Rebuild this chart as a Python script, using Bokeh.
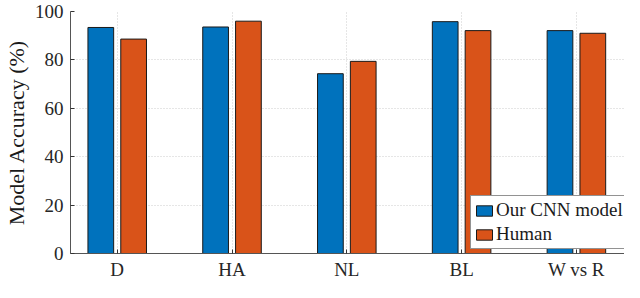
from bokeh.plotting import figure
from bokeh.models import ColumnDataSource, FixedTicker, Legend, LegendItem
from bokeh.transform import dodge
from bokeh.embed import file_html
from bokeh.resources import INLINE

categories = ["D", "HA", "NL", "BL", "W vs R"]
cnn_acc = [93.4, 93.6, 74.3, 95.8, 92.1]
human_acc = [88.6, 96.0, 79.4, 92.1, 91.0]
y_ticks = [0, 20, 40, 60, 80, 100]

xs = list(range(1, len(categories) + 1))
src = ColumnDataSource(dict(x=xs, cnn=cnn_acc, human=human_acc))

FONT = "Liberation Serif"
BLUE = "#0072BD"
ORANGE = "#D95319"

p = figure(width=624, height=282, x_range=(0.593, 5.419), y_range=(0, 100),
           output_backend="svg", toolbar_location=None,
           min_border_left=63, min_border_right=0, min_border_top=11,
           min_border_bottom=0, background_fill_color="white",
           border_fill_color="white")
p.outline_line_color = None

r1 = p.vbar(x=dodge("x", -0.143), top="cnn", width=0.224, source=src,
            fill_color=BLUE, line_color="#1a1a1a", line_width=1)
r2 = p.vbar(x=dodge("x", 0.143), top="human", width=0.224, source=src,
            fill_color=ORANGE, line_color="#1a1a1a", line_width=1)

# axes
p.xaxis.ticker = FixedTicker(ticks=xs)
p.xaxis.major_label_overrides = {x: c for x, c in zip(xs, categories)}
p.yaxis.ticker = FixedTicker(ticks=y_ticks)
for ax in (p.xaxis[0], p.yaxis[0]):
    ax.axis_line_color = "#555555"
    ax.axis_line_width = 1
    ax.major_tick_in = 4
    ax.major_tick_out = 0
    ax.major_tick_line_color = "#333333"
    ax.minor_tick_line_color = None
    ax.major_label_text_font = FONT
    ax.major_label_text_font_size = "19px"
    ax.major_label_text_color = "#262626"
p.xaxis.major_label_standoff = 5
p.xaxis.axis_label_standoff = 0
p.yaxis.major_label_standoff = 7
p.yaxis.axis_label = "Model Accuracy (%)"
p.yaxis.axis_label_text_font = FONT
p.yaxis.axis_label_text_font_size = "22px"
p.yaxis.axis_label_text_font_style = "normal"
p.yaxis.axis_label_text_color = "#1a1a1a"
p.yaxis.axis_label_standoff = 3

# grids
p.xgrid.ticker = FixedTicker(ticks=xs)
p.ygrid.ticker = FixedTicker(ticks=y_ticks)
for g in (p.xgrid[0], p.ygrid[0]):
    g.grid_line_color = "#cccccc"
    g.grid_line_dash = "1 2"
    g.grid_line_width = 1

legend = Legend(items=[LegendItem(label="Our CNN model", renderers=[r1]),
                       LegendItem(label="Human", renderers=[r2])],
                location=(400, 4))
legend.border_line_color = "#262626"
legend.border_line_width = 1
legend.background_fill_color = "white"
legend.background_fill_alpha = 1.0
legend.padding = 3
legend.margin = 0
legend.spacing = 2
legend.glyph_width = 20
legend.glyph_height = 13
legend.label_standoff = 2
legend.label_height = 20
legend.label_text_font = FONT
legend.label_text_font_size = "19px"
legend.label_text_color = "#1a1a1a"
p.add_layout(legend)

open("out.html", "w").write(file_html(p, INLINE))
